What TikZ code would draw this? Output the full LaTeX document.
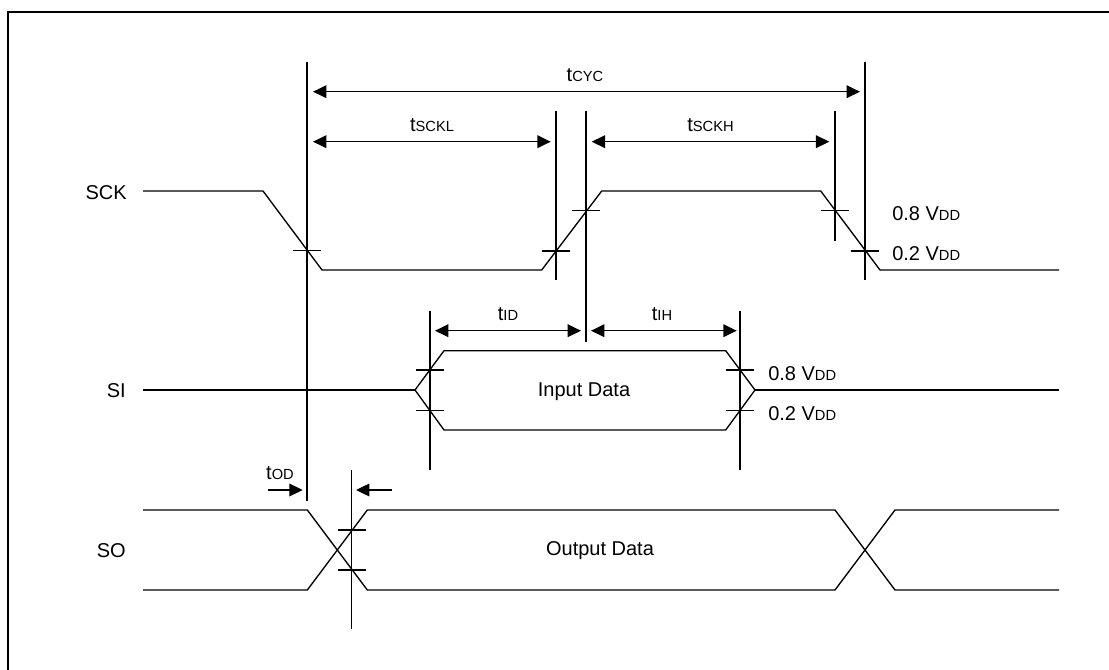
\documentclass[tikz,border=0pt]{standalone}
\usepackage{fontspec}
\setmainfont{Liberation Sans}
\usetikzlibrary{arrows.meta}
\newcommand\smp[1]{{\fontsize{11}{12}\selectfont #1}}
\begin{document}
\begin{tikzpicture}[x=0.75pt,y=-0.75pt,
  wave/.style={line width=1pt, line join=miter},
  vline/.style={line width=1pt},
  tick/.style={line width=1pt},
  dim/.style={line width=1pt, {Triangle[length=10pt,width=9.5pt]}-{Triangle[length=10pt,width=9.5pt]}},
  onearrow/.style={line width=1pt, -{Triangle[length=10pt,width=9.5pt]}},
  lbl/.style={font=\fontsize{15}{17}\selectfont, inner sep=0pt},
]
\useasboundingbox (0,0) rectangle (1109,670);
\clip (0,0) rectangle (1109,670);
% frame
\draw[line width=1.6pt] (8,700) -- (8,12) -- (1130,12);

% signal labels
\node[lbl, anchor=east] (sck) at (127,193) {SCK};
\node[lbl, anchor=east] (si) at (126,391) {SI};
\node[lbl, anchor=east] (so) at (126,551) {SO};

% SCK waveform
\draw[wave] (143,191) -- (263,191) -- (322,270) -- (541.7,270) -- (601.7,191) -- (820.7,191) -- (880,270) -- (1059,270);

% SI waveform
\draw[wave] (143,390) -- (415,390);
\draw[wave] (415,390) -- (444,350.7) -- (725.7,350.7) -- (755,390) -- (725.7,430) -- (444,430) -- cycle;
\draw[wave] (755,390) -- (1059,390);

% SO waveform
\draw[wave] (143,510) -- (307.3,510) -- (367.3,590) -- (835,590) -- (895,510) -- (1059,510);
\draw[wave] (143,590) -- (307.3,590) -- (367.3,510) -- (835,510) -- (895,590) -- (1059,590);

% vertical reference lines
\coordinate (v1t) at (307,61.7);  \coordinate (v1b) at (307,500.7);
\coordinate (v2t) at (556,111);   \coordinate (v2b) at (556,280);
\coordinate (v3t) at (586,111);   \coordinate (v3b) at (586,342);
\coordinate (v4t) at (835,111);   \coordinate (v4b) at (835,240.7);
\coordinate (v5t) at (865,61.7);  \coordinate (v5b) at (865,280);
\coordinate (v6t) at (430,310.7); \coordinate (v6b) at (430,470);
\coordinate (v7t) at (740,310.7); \coordinate (v7b) at (740,470);
\coordinate (v8t) at (351.7,470); \coordinate (v8b) at (351.7,629.3);
\foreach \v in {1,...,8} {\draw[vline] (v\v t) -- (v\v b);}

% threshold ticks
\foreach \x/\y in {307/250.7, 556/251, 586/210.7, 835/210.7, 865/251,
                   430/370, 430/410.7, 740/370, 740/410.7,
                   352/530, 352/570}
  {\draw[tick] (\x-14.3,\y) -- (\x+14.3,\y);}

% dimension arrows
\coordinate (cycL) at (313,91.7);    \coordinate (cycR) at (860,91.7);
\coordinate (sclL) at (313,141.7);   \coordinate (sclR) at (550.7,141.7);
\coordinate (schL) at (591.7,141.7); \coordinate (schR) at (829.3,141.7);
\coordinate (idL) at (435,330.7);    \coordinate (idR) at (581,330.7);
\coordinate (ihL) at (591,330.7);    \coordinate (ihR) at (736.7,330.7);
\coordinate (odA) at (268.3,490);    \coordinate (odAt) at (302.7,490);
\coordinate (odB) at (391.7,490);    \coordinate (odBt) at (356,490);
\draw[dim] (cycL) -- (cycR);
\draw[dim] (sclL) -- (sclR);
\draw[dim] (schL) -- (schR);
\draw[dim] (idL) -- (idR);
\draw[dim] (ihL) -- (ihR);
\draw[onearrow] (odA) -- (odAt);
\draw[onearrow] (odB) -- (odBt);

% timing labels
\node[lbl] (tcyc) at (585,75) {t\smp{CYC}};
\node[lbl] (tsckl) at (432,125) {t\smp{SCKL}};
\node[lbl] (tsckh) at (710.5,125) {t\smp{SCKH}};
\node[lbl] (tid) at (508,314) {t\smp{ID}};
\node[lbl] (tih) at (662,314) {t\smp{IH}};
\node[lbl] (tod) at (280,473) {t\smp{OD}};

% level labels
\node[lbl, anchor=west] (sck08) at (892,214) {0.8 V\smp{DD}};
\node[lbl, anchor=west] (sck02) at (892,254) {0.2 V\smp{DD}};
\node[lbl, anchor=west] (si08) at (768,374) {0.8 V\smp{DD}};
\node[lbl, anchor=west] (si02) at (768,414) {0.2 V\smp{DD}};

% data labels
\node[lbl] (indata) at (584,392) {Input Data};
\node[lbl] (outdata) at (600,551) {Output Data};
\end{tikzpicture}
\end{document}
